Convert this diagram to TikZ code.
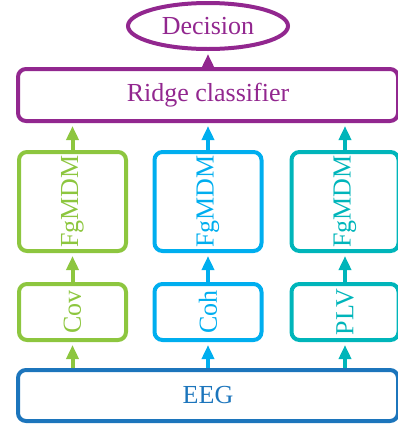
\documentclass[tikz,border=0pt]{standalone}
\usepackage{fontspec}
\setmainfont{Liberation Serif}
\usetikzlibrary{arrows.meta,shapes.geometric}
\definecolor{cpurple}{HTML}{92278F}
\definecolor{cgreen}{HTML}{8DC63F}
\definecolor{cblue}{HTML}{00AEEF}
\definecolor{cteal}{HTML}{00B5BA}
\definecolor{cdeep}{HTML}{1C75BC}
\tikzset{
  box/.style={draw, rectangle, rounded corners=8pt, line width=4pt, inner sep=0pt,
    font=\fontsize{26}{30}\selectfont},
  wide/.style={box, minimum width=380pt, minimum height=52pt},
  tall/.style={box, minimum width=107pt, minimum height=99pt},
  short/.style={box, minimum width=107pt, minimum height=56pt},
  arr/.style={line width=4pt, -{Triangle[length=14pt,width=12pt]}, shorten >=3pt},
}
\begin{document}
\begin{tikzpicture}[x=1pt,y=-1pt]
\useasboundingbox (0,0) rectangle (397,429);
\node[draw=cpurple, text=cpurple, ellipse, line width=4pt, inner sep=0pt,
  minimum width=160pt, minimum height=46pt, font=\fontsize{26}{30}\selectfont]
  (dec) at (208,26) {Decision};
\node[wide, draw=cpurple, text=cpurple] (ridge) at (208,95) {Ridge classifier};
\node[tall, draw=cgreen, text=cgreen] (fg1) at (72.5,201.5) {\rotatebox{90}{FgMDM}};
\node[tall, draw=cblue, text=cblue] (fg2) at (208,201.5) {\rotatebox{90}{FgMDM}};
\node[tall, draw=cteal, text=cteal] (fg3) at (345,201.5) {\rotatebox{90}{FgMDM}};
\node[short, draw=cgreen, text=cgreen] (c1) at (72.5,312) {\rotatebox{90}{Cov}};
\node[short, draw=cblue, text=cblue] (c2) at (208,312) {\rotatebox{90}{Coh}};
\node[short, draw=cteal, text=cteal] (c3) at (345,312) {\rotatebox{90}{PLV}};
\node[wide, minimum height=51pt, draw=cdeep, text=cdeep] (eeg) at (208,395.5) {EEG};
\draw[arr, cgreen] (eeg.north -| c1) -- (c1.south);
\draw[arr, cblue] (eeg.north -| c2) -- (c2.south);
\draw[arr, cteal] (eeg.north -| c3) -- (c3.south);
\draw[arr, cgreen] (c1.north) -- (fg1.south);
\draw[arr, cblue] (c2.north) -- (fg2.south);
\draw[arr, cteal] (c3.north) -- (fg3.south);
\draw[arr, cgreen] (fg1.north) -- (ridge.south -| fg1);
\draw[arr, cblue] (fg2.north) -- (ridge.south -| fg2);
\draw[arr, cteal] (fg3.north) -- (ridge.south -| fg3);
\draw[arr, cpurple] (ridge.north) -- (dec.south);
\end{tikzpicture}
\end{document}
